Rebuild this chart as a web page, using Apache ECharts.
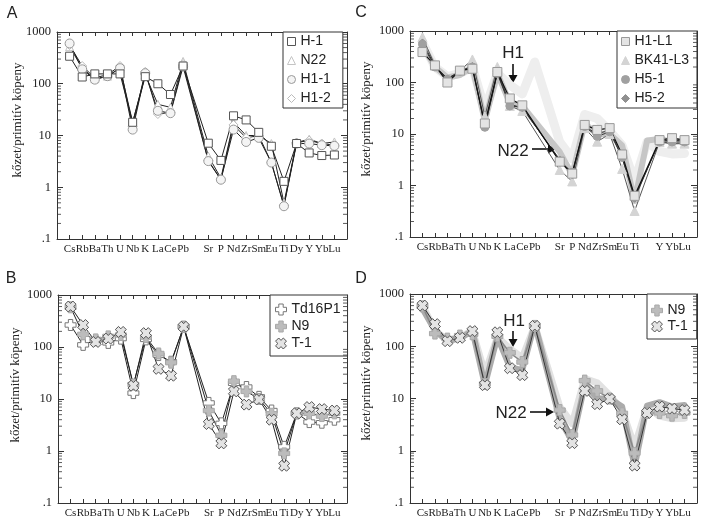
<!DOCTYPE html>
<html>
<head>
<meta charset="utf-8">
<script src="https://cdn.jsdelivr.net/npm/echarts@6/dist/echarts.min.js"></script>
<style>
  html, body { margin: 0; padding: 0; background: #fff; }
  #chart { width: 703px; height: 522px; }
</style>
</head>
<body>
<div id="chart"></div>
<script>
// elements on the x axis, the blank slot is Pr (not measured)
const elements = ['Cs', 'Rb', 'Ba', 'Th', 'U', 'Nb', 'K', 'La', 'Ce', 'Pb', '', 'Sr', 'P', 'Nd', 'Zr', 'Sm', 'Eu', 'Ti', 'Dy', 'Y', 'Yb', 'Lu'];
// panel C has no Dy label
const elementsC = ['Cs', 'Rb', 'Ba', 'Th', 'U', 'Nb', 'K', 'La', 'Ce', 'Pb', '', 'Sr', 'P', 'Nd', 'Zr', 'Sm', 'Eu', 'Ti', '', 'Y', 'Yb', 'Lu'];

const yTickValues = [0.1, 1, 10, 100, 1000];
const yTickLabels = ['.1', '1', '10', '100', '1000'];
const yMinorTicks = [0.2, 0.3, 0.4, 0.5, 0.6, 0.7, 0.8, 0.9, 2, 3, 4, 5, 6, 7, 8, 9,
  20, 30, 40, 50, 60, 70, 80, 90, 200, 300, 400, 500, 600, 700, 800, 900];

// A panel
const h1 = [340, 135, 155, 155, 155, 18, 137, 100, 62, 220, null, 7.1, 3.3, 24, 20, 11.5, 6.2, 1.3, 7, 4.6, 4.1, 4.2];
const n22 = [520, 200, 125, 140, 200, 18, 150, 40, 35, 270, null, 4, 1.5, 18, 10, 10, 7, 0.5, 7.3, 8.5, 7, 7.5];
const h1_1 = [600, 190, 120, 140, 200, 13, 160, 30, 27, 215, null, 3.2, 1.4, 13, 7.5, 9, 3, 0.43, 7, 7, 6.5, 6.3];
const h1_2 = [560, 220, 130, 150, 220, 15, 170, 26, 28, 240, null, 3.3, 1.4, 16, 9, 10, 3, 0.45, 7.3, 8, 7, 6.5];

// B and D panels
const td16p1 = [265, 110, 135, 120, 145, 13, 140, 70, 52, 245, null, 8.4, 3.4, 20, 17, 11, 6, 1.2, 5.3, 3.6, 3.5, 4];
const n9 = [580, 175, 140, 160, 170, 19, 155, 75, 50, 245, null, 6, 2, 22, 14, 10, 5.2, 0.9, 5.3, 5.3, 4.7, 5.3];
const t1 = [600, 265, 125, 145, 195, 18, 185, 38, 28, 245, null, 3.3, 1.4, 14, 7.8, 9.8, 4, 0.52, 5.3, 7, 6.4, 6];

// C panel
const h1_l1 = [390, 215, 100, 170, 185, 16, 160, 49, 36, null, null, 2.9, 1.7, 15, 12, 13, 4, 0.63, null, 7.6, 8.3, 7.6];
const bk41_l3 = [760, 215, 110, 170, 280, 22, 200, 35, 28, null, null, 2, 1.2, 13, 7.1, 10, 2.1, 0.32, null, 7, 6.5, 6.5];
const h5_1 = [550, 200, 115, 165, 200, 13.5, 150, 35, 33, null, null, 3, 1.8, 14, 9, 11, 3.5, 0.6, null, 7, 7, 7];
const h5_2 = [600, 210, 120, 165, 210, 14, 155, 38, 32, null, null, 3.2, 1.6, 14, 10, 12, 3.5, 0.55, null, 7.5, 7.5, 7.5];

// pale reference patterns behind C and D
const h1Field = [600, 200, 130, 150, 200, 30, 150, 90, 60, 250, null, 7, 3.3, 24, 20, 11.5, 6, 1.2, 7, 4.6, 4.1, 4.2];
const n22Field = [520, 200, 125, 140, 200, 18, 150, 40, 35, null, null, 4.5, 1.6, 16, 10, 10, 6, 0.5, 7.5, 8, 7, 7.5];

const SERIF = 'Liberation Serif';
const SANS = 'Liberation Sans';
const PLUS = 'path://M3,0 L7,0 L7,3 L10,3 L10,7 L7,7 L7,10 L3,10 L3,7 L0,7 L0,3 L3,3 Z';
const CROSS = 'path://M7.1,0 L10,2.9 L7.8,5 L10,7.1 L7.1,10 L5,7.8 L2.9,10 L0,7.1 L2.2,5 L0,2.9 L2.9,0 L5,2.2 Z';

// symbol styles of the samples
const styles = {
  'H-1': { symbol: 'rect', size: 8, fill: '#fff', border: '#555' },
  'N22': { symbol: 'triangle', size: 8, fill: '#fff', border: '#c4c4c4' },
  'H1-1': { symbol: 'circle', size: 9, fill: '#f4f4f4', border: '#999' },
  'H1-2': { symbol: 'diamond', size: 9, fill: '#fff', border: '#bbb' },
  'Td16P1': { symbol: PLUS, size: 11, fill: '#fff', border: '#777' },
  'N9': { symbol: PLUS, size: 11, fill: '#bcbcbc', border: '#a8a8a8' },
  'T-1': { symbol: CROSS, size: 11, fill: '#e4e4e4', border: '#555' },
  'H1-L1': { symbol: 'rect', size: 9, fill: '#e4e4e4', border: '#999' },
  'BK41-L3': { symbol: 'triangle', size: 9, fill: '#d4d4d4', border: '#d4d4d4' },
  'H5-1': { symbol: 'circle', size: 8, fill: '#a0a0a0', border: '#a0a0a0' },
  'H5-2': { symbol: 'diamond', size: 7, fill: '#909090', border: '#909090' },
};

function toPoints(values) {
  const pts = [];
  values.forEach((v, i) => { if (v != null) pts.push([i + 1, v]); });
  return pts;
}

function sample(p, name, values, lineColor, lineWidth) {
  const s = styles[name];
  return {
    type: 'line', name: name, xAxisIndex: p * 2, yAxisIndex: p * 2,
    data: toPoints(values),
    symbol: s.symbol, symbolSize: s.size, showAllSymbol: true,
    itemStyle: { color: s.fill, borderColor: s.border, borderWidth: 1, opacity: 1 },
    lineStyle: { color: lineColor, width: lineWidth },
    emphasis: { disabled: true }, z: 3,
  };
}

// broad pale lines for the H1 and N22 patterns behind panels C and D
function field(p, name, values, color, width) {
  return {
    type: 'line', name: name, xAxisIndex: p * 2, yAxisIndex: p * 2,
    data: toPoints(values), symbol: 'none',
    lineStyle: { color: color, width: width, join: 'round', cap: 'round' },
    emphasis: { disabled: true }, silent: true, z: 1,
  };
}

// minor log ticks on the left and right frame
function minorTicks(p) {
  const left = yMinorTicks.map(v => [0, v]);
  const right = yMinorTicks.map(v => [23, v]);
  const base = {
    type: 'scatter', xAxisIndex: p * 2, yAxisIndex: p * 2, symbol: 'rect',
    symbolSize: [4, 1], itemStyle: { color: '#333' }, silent: true, clip: false, z: 4,
  };
  return [
    Object.assign({}, base, { data: left, symbolOffset: [2, 0] }),
    Object.assign({}, base, { data: right, symbolOffset: [-2, 0] }),
  ];
}

const frameLine = { show: true, onZero: false, lineStyle: { color: '#333', width: 1 } };
const tickStyle = { color: '#333', width: 1 };

function xAxes(p, labels) {
  const common = { type: 'value', gridIndex: p, min: 0, max: 23, interval: 1, splitLine: { show: false }, axisLine: frameLine };
  return [
    Object.assign({}, common, {
      position: 'bottom',
      axisTick: { inside: true, length: 4, lineStyle: tickStyle },
      axisLabel: {
        formatter: v => labels[v - 1] || '', fontFamily: SERIF, fontSize: 11, color: '#222', margin: 5,
      },
    }),
    Object.assign({}, common, {
      position: 'top',
      axisTick: { inside: true, length: 4, lineStyle: tickStyle },
      axisLabel: { show: false },
    }),
  ];
}

function yLabel(v) {
  const i = yTickValues.findIndex(t => Math.abs(Math.log10(t) - Math.log10(v)) < 1e-6);
  return i >= 0 ? yTickLabels[i] : '';
}

function yAxes(p) {
  const common = { type: 'log', logBase: 10, gridIndex: p, min: 0.1, max: 1000, splitLine: { show: false }, axisLine: frameLine };
  return [
    Object.assign({}, common, {
      position: 'left',
      axisTick: { inside: true, length: 6, lineStyle: tickStyle },
      axisLabel: { formatter: yLabel, fontFamily: SERIF, fontSize: 12.5, color: '#222', margin: 6 },
    }),
    Object.assign({}, common, {
      position: 'right',
      axisTick: { inside: true, length: 6, lineStyle: tickStyle },
      axisLabel: { show: false },
    }),
  ];
}

function legend(names, left, top, padding, itemGap, iconSize) {
  return {
    orient: 'vertical', left: left, top: top, padding: padding, itemGap: itemGap,
    itemWidth: iconSize, itemHeight: iconSize,
    borderColor: '#333', borderWidth: 1, backgroundColor: '#fff',
    selectedMode: false,
    itemStyle: { borderWidth: 1 },
    data: names.map(n => ({ name: n, icon: styles[n].symbol })),
    textStyle: { fontFamily: SANS, fontSize: 14, lineHeight: 15, color: '#222' },
  };
}

function label(text, x, y, size, rotate, family) {
  return {
    type: 'text', x: x, y: y, rotation: rotate ? Math.PI / 2 : 0,
    style: { text: text, font: size + 'px "' + family + '"', fill: '#222', textAlign: 'center', textVerticalAlign: 'middle' },
  };
}

function arrowDown(x, y1, y2) {
  return [
    { type: 'line', shape: { x1: x, y1: y1, x2: x, y2: y2 - 6 }, style: { stroke: '#111', lineWidth: 1.6 } },
    { type: 'polygon', shape: { points: [[x - 4.5, y2 - 8], [x + 4.5, y2 - 8], [x, y2]] }, style: { fill: '#111' } },
  ];
}

function arrowRight(x1, x2, y) {
  return [
    { type: 'line', shape: { x1: x1, y1: y, x2: x2 - 6, y2: y }, style: { stroke: '#111', lineWidth: 1.6 } },
    { type: 'polygon', shape: { points: [[x2 - 8, y - 4.5], [x2 - 8, y + 4.5], [x2, y]] }, style: { fill: '#111' } },
  ];
}

const grids = [
  { left: 57, top: 32, width: 290, height: 207 },   // A
  { left: 58, top: 295, width: 289, height: 208 },  // B
  { left: 410, top: 31, width: 287, height: 206 },  // C
  { left: 410, top: 294, width: 287, height: 209 }, // D
];

const series = [
  // A
  sample(0, 'N22', n22, '#222', 1),
  sample(0, 'H1-2', h1_2, '#222', 1),
  sample(0, 'H1-1', h1_1, '#222', 1),
  sample(0, 'H-1', h1, '#222', 1),
  // B
  sample(1, 'Td16P1', td16p1, '#222', 1),
  sample(1, 'N9', n9, '#222', 1),
  sample(1, 'T-1', t1, '#222', 1),
  // C
  field(2, 'H1 field', h1Field, '#eeeeee', 9),
  field(2, 'N22 field', n22Field, '#c6c6c6', 6),
  sample(2, 'BK41-L3', bk41_l3, '#555', 1),
  sample(2, 'H5-2', h5_2, '#333', 1),
  sample(2, 'H5-1', h5_1, '#333', 1),
  sample(2, 'H1-L1', h1_l1, '#111', 1.2),
  // D
  field(3, 'H1 field', h1Field, '#e2e2e2', 7),
  field(3, 'N22 field', n22, '#acacac', 6),
  sample(3, 'N9', n9, '#888', 1.5),
  sample(3, 'T-1', t1, '#333', 1),
];
[0, 1, 2, 3].forEach(p => series.push(...minorTicks(p)));

const chart = echarts.init(document.getElementById('chart'));
chart.setOption({
  animation: false,
  backgroundColor: '#fff',
  textStyle: { fontFamily: SERIF },
  grid: grids,
  xAxis: [].concat(xAxes(0, elements), xAxes(1, elements), xAxes(2, elementsC), xAxes(3, elements)),
  yAxis: [].concat(yAxes(0), yAxes(1), yAxes(2), yAxes(3)),
  legend: [
    legend(['H-1', 'N22', 'H1-1', 'H1-2'], 283, 32, [2, 12, 2, 4], 4, 8),
    legend(['Td16P1', 'N9', 'T-1'], 270, 295, [7, 7, 5, 5], 2, 11),
    legend(['H1-L1', 'BK41-L3', 'H5-1', 'H5-2'], 617, 31, [3, 8, 2, 4], 4, 8),
    legend(['N9', 'T-1'], 647, 294, [9, 9, 5, 4], 1, 11),
  ],
  graphic: [
    label('A', 12, 14, 16, false, SANS),
    label('B', 11, 279, 16, false, SANS),
    label('C', 361, 13, 16, false, SANS),
    label('D', 361, 279, 16, false, SANS),
    label('kőzet/primitív köpeny', 18, 120, 13, true, SERIF),
    label('kőzet/primitív köpeny', 16, 385, 13, true, SERIF),
    label('kőzet/primitív köpeny', 367, 119, 13, true, SERIF),
    label('kőzet/primitív köpeny', 367, 383, 13, true, SERIF),
    label('H1', 513, 53, 17, false, SANS),
    label('N22', 513, 151, 17, false, SANS),
    label('H1', 514, 321, 17, false, SANS),
    label('N22', 511, 413, 17, false, SANS),
  ].concat(
    arrowDown(513, 64, 83),
    arrowRight(532, 556, 149),
    arrowDown(513, 331, 347),
    arrowRight(530, 554, 412)
  ),
  series: series,
});
</script>
</body>
</html>
